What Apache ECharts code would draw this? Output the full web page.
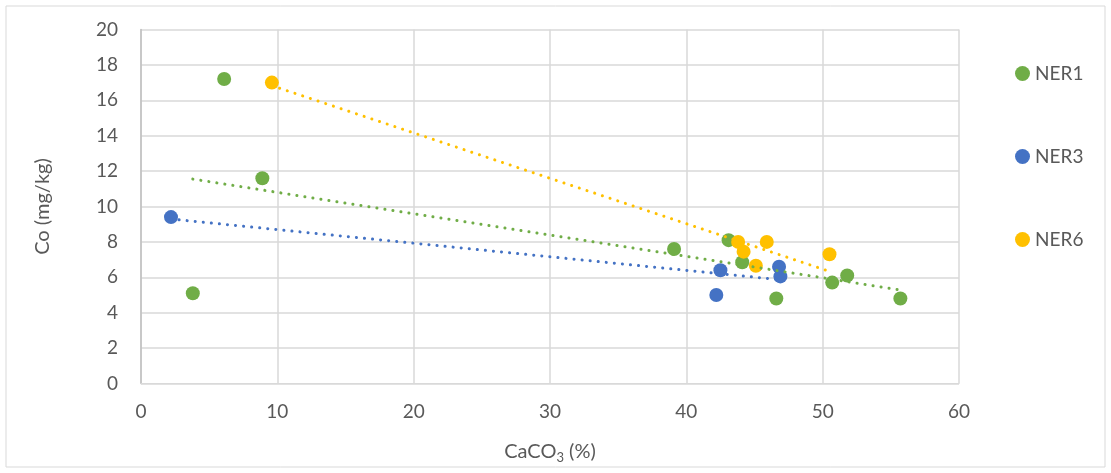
<!DOCTYPE html>
<html>
<head>
<meta charset="utf-8">
<script src="https://cdn.jsdelivr.net/npm/echarts@6/dist/echarts.min.js"></script>
<style>
html,body{margin:0;padding:0;background:#fff;}
#c{width:1111px;height:473px;}
</style>
</head>
<body>
<div id="c"></div>
<script>
var seriesNames = ['NER1', 'NER3', 'NER6'];
var ner1X = [6.1, 8.9, 3.8, 39.1, 43.1, 44.1, 46.6, 50.7, 51.8, 55.7];
var ner1Y = [17.2, 11.6, 5.1, 7.6, 8.1, 6.85, 4.8, 5.7, 6.1, 4.8];
var ner3X = [2.2, 42.2, 42.5, 46.8, 46.9];
var ner3Y = [9.4, 5.0, 6.4, 6.6, 6.05];
var ner6X = [9.6, 43.8, 44.2, 45.1, 45.9, 50.5];
var ner6Y = [17.0, 8.0, 7.45, 6.65, 8.0, 7.3];
var xTicks = [0, 10, 20, 30, 40, 50, 60];
var yTicks = [0, 2, 4, 6, 8, 10, 12, 14, 16, 18, 20];

var colors = ['#70AD47', '#4472C4', '#FFC000'];
var FONT = 'Lato, "Open Sans", sans-serif';

function pairs(xs, ys) { return xs.map(function (x, i) { return [x, ys[i]]; }); }
// least-squares linear trendline over the data range (like Excel's linear trendline)
function trend(xs, ys) {
  var n = xs.length, mx = 0, my = 0;
  for (var i = 0; i < n; i++) { mx += xs[i]; my += ys[i]; }
  mx /= n; my /= n;
  var sxy = 0, sxx = 0;
  for (i = 0; i < n; i++) { sxy += (xs[i] - mx) * (ys[i] - my); sxx += (xs[i] - mx) * (xs[i] - mx); }
  var b = sxy / sxx, a = my - b * mx;
  var x0 = Math.min.apply(null, xs), x1 = Math.max.apply(null, xs);
  return [[x0, a + b * x0], [x1, a + b * x1]];
}

var sets = [[ner1X, ner1Y], [ner3X, ner3Y], [ner6X, ner6Y]];
var series = [];
sets.forEach(function (s, i) {
  series.push({
    name: seriesNames[i] + '_trend', type: 'line', data: trend(s[0], s[1]),
    symbol: 'none', silent: true, z: 3,
    lineStyle: { color: colors[i], width: 3, type: [0.1, 8], cap: 'round' }
  });
});
sets.forEach(function (s, i) {
  series.push({
    name: seriesNames[i], type: 'scatter', data: pairs(s[0], s[1]),
    symbol: 'circle', symbolSize: 14, z: 2,
    itemStyle: { color: colors[i], opacity: 1 }
  });
});

var chart = echarts.init(document.getElementById('c'), null, { renderer: 'canvas' });
chart.setOption({
  animation: false,
  backgroundColor: '#fff',
  color: colors,
  textStyle: { fontFamily: FONT },
  graphic: [{
    type: 'rect', shape: { x: 6, y: 6, width: 1099, height: 461 },
    style: { fill: 'none', stroke: '#D9D9D9', lineWidth: 1 }, silent: true, z: -1
  }],
  grid: { left: 141, right: 152, top: 29.5, bottom: 89.5, containLabel: false },
  legend: {
    orient: 'vertical', left: 1010, top: 59,
    data: seriesNames.map(function (n) { return { name: n, icon: 'circle' }; }),
    itemWidth: 15, itemHeight: 15, itemGap: 64,
    textStyle: { color: '#595959', fontSize: 19, fontFamily: FONT }
  },
  xAxis: {
    type: 'value', min: xTicks[0], max: xTicks[xTicks.length - 1], interval: 10,
    name: '{a|CaCO}{s|3}{a| (%)}', nameLocation: 'middle', nameGap: 56,
    nameTextStyle: {
      rich: {
        a: { fontSize: 20, color: '#595959', fontFamily: FONT },
        s: { fontSize: 13, color: '#595959', fontFamily: FONT, padding: [12, 0, 0, 0] }
      }
    },
    axisLine: { show: true, lineStyle: { color: '#D9D9D9' } },
    axisTick: { show: false },
    axisLabel: { color: '#595959', fontSize: 19, margin: 19, fontFamily: FONT },
    splitLine: { show: true, lineStyle: { color: '#D9D9D9', width: 1.5 } }
  },
  yAxis: {
    type: 'value', min: yTicks[0], max: yTicks[yTicks.length - 1], interval: 2,
    name: 'Co (mg/kg)', nameLocation: 'middle', nameGap: 88, nameRotate: 90,
    nameTextStyle: { color: '#595959', fontSize: 20, fontFamily: FONT },
    axisLine: { show: true, lineStyle: { color: '#BFBFBF', width: 1.5 } },
    axisTick: { show: false },
    axisLabel: { color: '#595959', fontSize: 19, margin: 23, fontFamily: FONT },
    splitLine: { show: true, lineStyle: { color: '#D9D9D9', width: 1.5 } }
  },
  series: series
});
</script>
</body>
</html>
